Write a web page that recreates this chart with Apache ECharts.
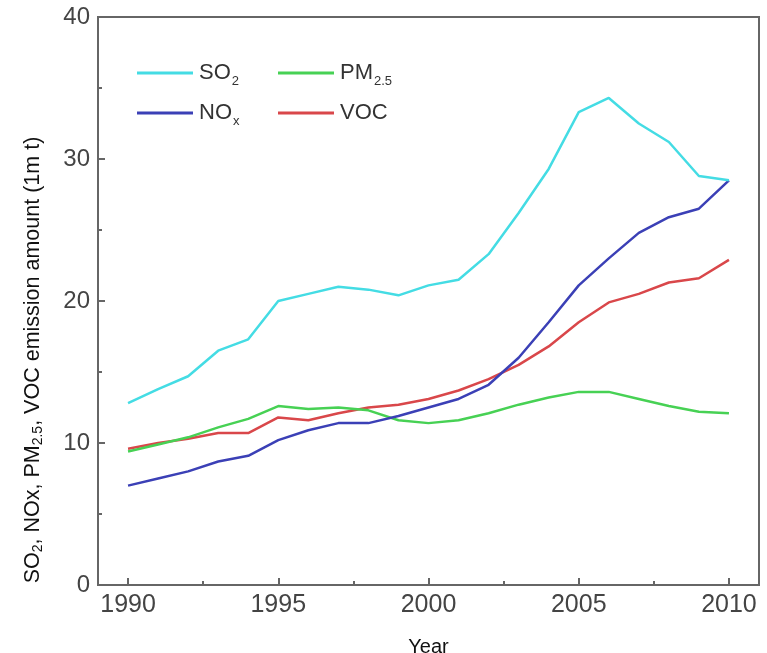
<!DOCTYPE html>
<html><head><meta charset="utf-8">
<script src="https://cdn.jsdelivr.net/npm/echarts@6/dist/echarts.min.js"></script>
<style>html,body{margin:0;padding:0;background:#fff}#c{width:767px;height:653px}</style>
</head><body><div id="c"></div>
<script>
const years = [1990,1991,1992,1993,1994,1995,1996,1997,1998,1999,2000,2001,2002,2003,2004,2005,2006,2007,2008,2009,2010];
const so2  = [12.8,13.8,14.7,16.5,17.3,20.0,20.5,21.0,20.8,20.4,21.1,21.5,23.3,26.2,29.3,33.3,34.3,32.5,31.2,28.8,28.5];
const nox  = [7.0,7.5,8.0,8.7,9.1,10.2,10.9,11.4,11.4,11.9,12.5,13.1,14.1,16.0,18.5,21.1,23.0,24.8,25.9,26.5,28.5];
const pm25 = [9.4,9.9,10.4,11.1,11.7,12.6,12.4,12.5,12.3,11.6,11.4,11.6,12.1,12.7,13.2,13.6,13.6,13.1,12.6,12.2,12.1];
const voc  = [9.6,10.0,10.3,10.7,10.7,11.8,11.6,12.1,12.5,12.7,13.1,13.7,14.5,15.5,16.8,18.5,19.9,20.5,21.3,21.6,22.9];
const xMajor = [1990,1995,2000,2005,2010];
const xMinor = [1992.5,1997.5,2002.5,2007.5];

const names = ['SO2','NOx','PM2.5','VOC'];
const colors = ['#44dce4','#3b40b6','#47d154','#d9474a'];
const legendFmt = {
  'SO2':'{b|SO}{s|2}',
  'NOx':'{b|NO}{s|x}',
  'PM2.5':'{b|PM}{s|2.5}',
  'VOC':'{b|VOC}'
};
const FONT = 'Liberation Sans, Arial, sans-serif';
const legRich = {
  b:{fontSize:22,color:'#333',fontFamily:FONT},
  s:{fontSize:13,color:'#333',padding:[16,0,0,1],fontFamily:FONT}
};
function leg(name,left,top){
  return {
    data:[name],left:left,top:top,
    itemWidth:56,itemHeight:3,icon:'rect',
    formatter:n=>legendFmt[n],
    textStyle:{rich:legRich,padding:[0,0,0,1]},
    selectedMode:false,padding:0
  };
}
const toXY = arr => years.map((y,i)=>[y,arr[i]]);
const chart = echarts.init(document.getElementById('c'));
chart.setOption({
  animation:false,
  backgroundColor:'#fff',
  grid:{left:98,right:8,top:17,bottom:68,show:true,borderColor:'#666',borderWidth:2,containLabel:false,outerBoundsMode:'none'},
  legend:[
    leg('SO2',137,62), leg('PM2.5',278,62),
    leg('NOx',137,102), leg('VOC',278,102)
  ],
  graphic:[{
    type:'text',
    x:33,y:360,rotation:Math.PI/2,
    style:{
      text:'{t|SO}{s|2}{t|, NOx, PM}{s|2.5}{t|, VOC emission amount (1m t)}',
      align:'center',verticalAlign:'middle',
      rich:{
        t:{fontSize:21.5,fill:'#111',fontFamily:FONT},
        s:{fontSize:14,fill:'#111',padding:[11,0,0,0],fontFamily:FONT}
      }
    }
  }],
  xAxis:[{
    type:'value',min:1989,max:2011,
    name:'Year',nameLocation:'middle',nameGap:52,
    nameTextStyle:{fontSize:20,color:'#111',fontFamily:FONT},
    axisLine:{lineStyle:{color:'#666',width:2}},
    axisTick:{inside:true,length:7,lineStyle:{color:'#666',width:2},customValues:xMajor},
    axisLabel:{customValues:xMajor,formatter:v=>String(v),fontSize:25,color:'#444',margin:8,fontFamily:FONT},
    splitLine:{show:false}
  },{
    type:'value',min:1989,max:2011,position:'bottom',
    axisLine:{show:false},
    axisTick:{inside:true,length:4,lineStyle:{color:'#666',width:2},customValues:xMinor},
    axisLabel:{show:false},
    splitLine:{show:false}
  }],
  yAxis:{
    type:'value',min:0,max:40,interval:10,
    axisLine:{show:true,lineStyle:{color:'#666',width:2}},
    axisTick:{inside:true,length:7,lineStyle:{color:'#666',width:2}},
    minorTick:{show:true,splitNumber:2,length:4,lineStyle:{color:'#666',width:2}},
    axisLabel:{fontSize:24,color:'#444',margin:8,fontFamily:FONT},
    splitLine:{show:false}
  },
  series:[
    {name:'SO2',data:toXY(so2)},
    {name:'NOx',data:toXY(nox)},
    {name:'PM2.5',data:toXY(pm25)},
    {name:'VOC',data:toXY(voc)}
  ].map((s,i)=>Object.assign({type:'line',showSymbol:false,symbol:'none',color:colors[i],lineStyle:{width:2.5,color:colors[i]},z:[4,3,2,1][i]},s))
});
</script></body></html>
